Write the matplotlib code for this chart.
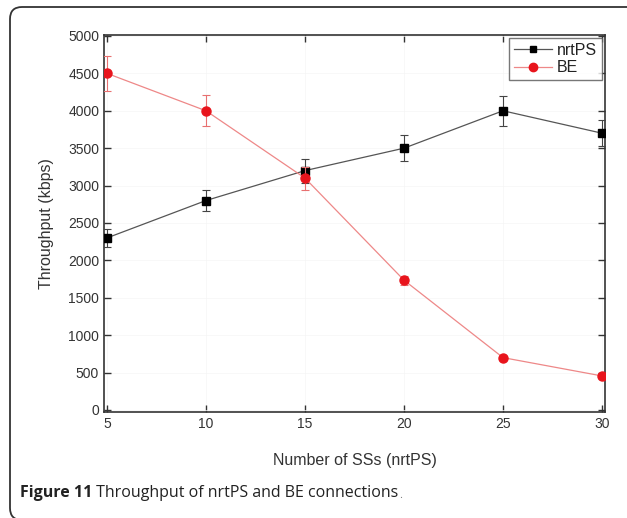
import matplotlib
matplotlib.use("agg")
import matplotlib.pyplot as plt
from matplotlib.patches import FancyBboxPatch
from matplotlib.transforms import IdentityTransform
from matplotlib.lines import Line2D

# values
num_ss = [5, 10, 15, 20, 25, 30]
nrtps = [2300, 2800, 3200, 3500, 4000, 3700]
nrtps_err = [115, 145, 160, 175, 200, 170]
be = [4500, 4000, 3100, 1735, 700, 455]
be_err = [235, 205, 155, 60, 25, 25]

xticks = [5, 10, 15, 20, 25, 30]
yticks = [0, 500, 1000, 1500, 2000, 2500, 3000, 3500, 4000, 4500, 5000]

fig = plt.figure(figsize=(6.27, 5.18), dpi=100)
ax = fig.add_axes([104 / 627, 106 / 518, 501 / 627, 377 / 518])

ax.errorbar(num_ss, nrtps, yerr=nrtps_err, color='#555555', lw=0.9,
            marker='s', ms=5.5, mfc='black', mec='black',
            ecolor='#444444', elinewidth=0.8, capsize=3, capthick=0.8,
            zorder=3)
ax.errorbar(num_ss, be, yerr=be_err, color='#ee8888', lw=0.9,
            marker='o', ms=6.5, mfc='#e8141c', mec='#e8141c',
            ecolor='#e87070', elinewidth=0.8, capsize=3, capthick=0.8,
            zorder=4)

ax.set_xlim(4.85, 30.15)
ax.set_ylim(-27, 5013)
ax.set_xticks(xticks)
ax.set_yticks(yticks)
ax.grid(True, color='#f5f5f5', lw=0.5)
ax.tick_params(direction='in', top=True, right=True, length=5, width=1,
               labelsize=10, labelcolor='#333333', color='#333333')
for s in ax.spines.values():
    s.set_color('#333333')
    s.set_linewidth(1.2)

ax.set_xlabel('Number of SSs (nrtPS)', fontsize=11.5, color='#333333',
              family='Liberation Sans', labelpad=16)
ax.set_ylabel('Throughput (kbps)', fontsize=11.5, color='#333333',
              family='Liberation Sans', labelpad=10)
for lbl in ax.get_xticklabels() + ax.get_yticklabels():
    lbl.set_family('Liberation Sans')

handles = [
    Line2D([], [], color='#555555', lw=0.9, marker='s', ms=5, mfc='black', mec='black'),
    Line2D([], [], color='#ee8888', lw=0.9, marker='o', ms=6, mfc='#e8141c', mec='#e8141c'),
]
leg = ax.legend(handles, ['nrtPS', 'BE'], loc='upper right', fontsize=11.5,
                frameon=True, fancybox=False, edgecolor='#555555',
                handlelength=2.4, borderpad=0.3, labelspacing=0.15,
                borderaxespad=0.2, handletextpad=0.3)
leg.get_frame().set_linewidth(1.0)
for t in leg.get_texts():
    t.set_family('Liberation Sans')
    t.set_color('#222222')

# rounded frame around figure + caption
frame = FancyBboxPatch((10, -2), 640, 513, boxstyle='round,pad=0,rounding_size=12',
                       transform=IdentityTransform(), fill=False,
                       ec='#333333', lw=1.3)
fig.add_artist(frame)

t1 = fig.text(20 / 627, 1 - 493 / 518, 'Figure 11', fontsize=11.5,
              weight='bold', family='Open Sans', color='#222222', va='center')
t2 = ax.annotate(' Throughput of nrtPS and BE connections', xy=(1, 0),
                 xycoords=t1, va='bottom', fontsize=11.5, family='Open Sans',
                 color='#222222', annotation_clip=False)
ax.annotate('.', xy=(1, 0), xycoords=t2, va='bottom', fontsize=8,
            family='Open Sans', color='#777777', annotation_clip=False)

fig.savefig('out.png', dpi=100)
